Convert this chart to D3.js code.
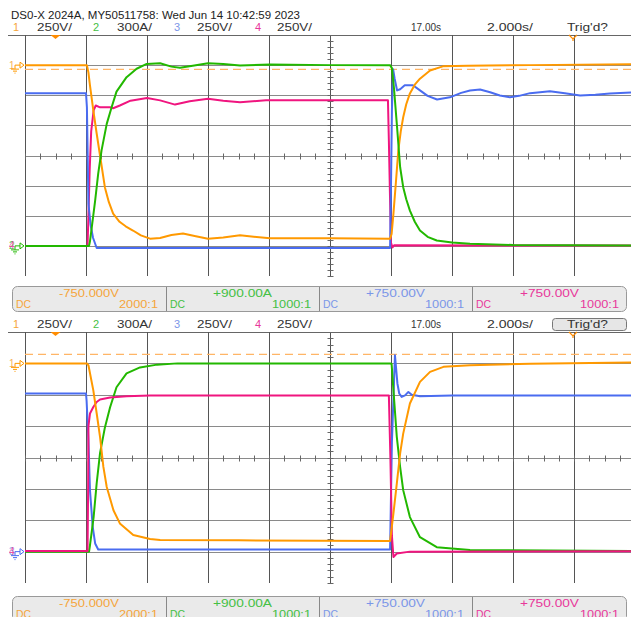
<!DOCTYPE html>
<html><head><meta charset="utf-8">
<script src="https://cdn.jsdelivr.net/npm/d3@7"></script>
<style>body{margin:0;background:#fff}svg{display:block}text{font-family:"Liberation Sans",Arial,sans-serif}</style>
</head><body><svg id="c" width="631" height="617"></svg>
<script>
// ---------- data ----------
const title = "DS0-X 2024A, MY50511758: Wed Jun 14 10:42:59 2023";
const channels = ["1", "2", "3", "4"];
const scaleLabels = ["250V/", "300A/", "250V/", "250V/"];
const offsetLabels = ["-750.000V", "+900.00A", "+750.00V", "+750.00V"];
const probeLabels = ["2000:1", "1000:1", "1000:1", "1000:1"];
const couplingLabels = ["DC", "DC", "DC", "DC"];
const delayLabel = "17.00s";
const timebaseLabel = "2.000s/";
const trigLabel = "Trig'd?";
const timeTicks = [7, 9, 11, 13, 15, 17, 19, 21, 23, 25, 27];   // s
const divTicks = [-4, -3, -2, -1, 0, 1, 2, 3, 4];               // divisions
const refLevelTop = 2.86, refLevelBot = 3.29;                   // dashed ch1 reference (div)

// [time s, value div]
const ch1Top = [[7,3.0],[9.03,3.0],[9.08,2.75],[9.13,2.33],[9.24,1.5],[9.35,0.73],[9.46,0.0],[9.62,-1.06],[9.75,-1.55],[9.89,-1.93],[10.1,-2.2],[10.3,-2.35],[10.54,-2.49],[10.8,-2.65],[11.1,-2.76],[11.43,-2.74],[11.8,-2.64],[12.18,-2.59],[12.6,-2.68],[13.0,-2.76],[13.5,-2.72],[14.05,-2.65],[14.5,-2.7],[15.03,-2.75],[17,-2.75],[18.97,-2.76],[19.02,-2.6],[19.08,-1.93],[19.16,-0.9],[19.24,0.17],[19.32,0.8],[19.4,1.27],[19.5,1.7],[19.62,2.06],[19.78,2.35],[19.95,2.55],[20.28,2.82],[20.7,2.96],[21.5,2.98],[23.56,3.0],[26.87,3.03]];
const ch2Top = [[7,-3.0],[9.1,-3.0],[9.13,-2.85],[9.19,-2.38],[9.3,-1.5],[9.4,-0.6],[9.51,0.17],[9.68,1.05],[9.84,1.6],[10.0,2.12],[10.33,2.6],[10.66,2.88],[10.99,3.04],[11.43,3.06],[11.8,2.95],[12.08,2.91],[12.5,2.98],[13.0,3.06],[13.5,3.04],[14.05,2.99],[15.03,3.02],[17,3.0],[18.97,3.0],[19.03,2.9],[19.1,2.2],[19.19,1.06],[19.3,-0.39],[19.4,-1.05],[19.5,-1.45],[19.62,-1.83],[19.78,-2.2],[19.95,-2.49],[20.2,-2.7],[20.5,-2.82],[21.0,-2.89],[21.59,-2.93],[23,-2.97],[26.87,-2.99]];
const ch3Top = [[7,2.07],[9.0,2.07],[9.03,1.6],[9.05,0.3],[9.08,-1.6],[9.15,-2.3],[9.23,-2.73],[9.35,-3.07],[12,-3.07],[18.97,-3.07],[19.0,-1.0],[19.03,1.5],[19.07,2.86],[19.12,2.55],[19.2,2.16],[19.3,2.2],[19.45,2.33],[19.72,2.33],[19.95,2.16],[20.2,1.98],[20.51,1.86],[20.93,1.93],[21.3,2.08],[21.59,2.16],[21.92,2.19],[22.25,2.1],[22.57,1.99],[22.9,1.93],[23.2,1.98],[23.56,2.07],[24.21,2.13],[24.7,2.07],[25.2,1.99],[25.7,2.02],[26.18,2.06],[26.87,2.09]];
const ch4Top = [[7,-3.0],[9.05,-3.0],[9.08,-2.0],[9.12,-0.5],[9.17,0.8],[9.25,1.5],[9.32,1.66],[9.46,1.6],[9.79,1.6],[9.89,1.57],[10.11,1.66],[10.46,1.82],[11.0,1.91],[11.43,1.83],[11.92,1.69],[12.4,1.8],[13.0,1.88],[13.5,1.82],[14.05,1.77],[14.9,1.83],[17,1.83],[18.9,1.83],[18.93,0.5],[18.97,-1.5],[19.0,-2.9],[19.05,-3.05],[19.1,-2.98],[26.87,-2.99]];

const ch1Bot = [[7,3.0],[9.03,3.0],[9.08,2.94],[9.24,2.14],[9.35,1.41],[9.46,0.66],[9.57,-0.3],[9.68,-0.94],[9.9,-1.68],[10.11,-2.1],[10.55,-2.47],[11.1,-2.6],[11.43,-2.63],[14,-2.64],[18.97,-2.66],[19.08,-1.78],[19.19,-0.83],[19.3,0.13],[19.4,0.76],[19.62,1.72],[19.95,2.41],[20.28,2.73],[20.72,2.89],[21.59,2.94],[23.56,2.99],[26.87,3.03]];
const ch2Bot = [[7,-3.0],[9.1,-3.0],[9.13,-2.8],[9.25,-1.9],[9.35,-0.82],[9.46,0.14],[9.62,0.96],[9.79,1.6],[10.0,2.24],[10.33,2.68],[10.77,2.87],[11.33,2.96],[12,3.0],[18.97,3.0],[19.02,2.98],[19.08,2.14],[19.19,0.66],[19.3,-0.31],[19.4,-1.04],[19.62,-1.9],[19.95,-2.54],[20.5,-2.86],[21.59,-2.95],[26.87,-2.98]];
const ch3Bot = [[7,2.04],[9.0,2.04],[9.02,1.8],[9.08,0.55],[9.13,-1.04],[9.22,-2.21],[9.3,-2.74],[9.4,-2.93],[18.97,-2.93],[19.03,0.5],[19.13,3.26],[19.21,2.36],[19.27,2.04],[19.35,1.93],[19.46,1.98],[19.57,2.09],[19.68,2.0],[19.95,1.95],[21,1.98],[26.87,1.98]];
const ch4Bot = [[7,-2.98],[9.05,-2.98],[9.07,-1.0],[9.08,1.0],[9.13,1.4],[9.24,1.61],[9.35,1.77],[9.46,1.85],[9.79,1.91],[10.33,1.95],[11.1,1.98],[18.93,1.98],[18.98,0.0],[19.03,-2.5],[19.08,-3.17],[19.19,-3.06],[19.62,-3.0],[26.87,-2.99]];

// ---------- style ----------
const traceColors = ["#ff9900", "#22b800", "#4a6cf0", "#f0157f"];
const textColors = ["#f5a53a", "#44c044", "#7b96e8", "#e8389a"];
const svg = d3.select("#c");
const W = 631;

const x = d3.scaleLinear().domain([7, 27]).range([25, 635]);

const panels = [
  {top: 35, bottom: 276, header: 31, box: 286, traces: [ch4Top, ch3Top, ch1Top, ch2Top], order: [3, 2, 0, 1], ref: refLevelTop, trigBox: false,
   markers: [{v: 3, nums: [0], arrow: 0}, {v: -3, nums: [1, 3], arrow: 1}]},
  {top: 332, bottom: 583, header: 328, box: 596, traces: [ch3Bot, ch2Bot, ch4Bot, ch1Bot], order: [2, 1, 3, 0], ref: refLevelBot, trigBox: true,
   markers: [{v: 3, nums: [0], arrow: 0}, {v: -3, nums: [2, 3], arrow: 2}]}
];

// title
svg.append("text").attr("x", 11).attr("y", 19).attr("font-size", 11).attr("fill", "#222")
  .attr("textLength", 289).attr("lengthAdjust", "spacingAndGlyphs").text(title);

const numX = [13, 93, 174, 255], scX = [37, 117, 197, 277];

panels.forEach((p, pi) => {
  const y = d3.scaleLinear().domain([-4, 4]).range([p.bottom, p.top]);
  const g = svg.append("g");

  // header row
  channels.forEach((c, i) => {
    g.append("text").attr("x", numX[i]).attr("y", p.header).attr("font-size", 11).attr("fill", textColors[i]).text(c);
    g.append("text").attr("x", scX[i]).attr("y", p.header).attr("font-size", 11).attr("fill", "#333")
      .attr("textLength", 35).attr("lengthAdjust", "spacingAndGlyphs").text(scaleLabels[i]);
  });
  g.append("text").attr("x", 411).attr("y", p.header).attr("font-size", 11).attr("fill", "#333")
    .attr("textLength", 30).attr("lengthAdjust", "spacingAndGlyphs").text(delayLabel);
  g.append("text").attr("x", 487).attr("y", p.header).attr("font-size", 11).attr("fill", "#333")
    .attr("textLength", 46).attr("lengthAdjust", "spacingAndGlyphs").text(timebaseLabel);
  if (p.trigBox) {
    g.append("rect").attr("x", 552.5).attr("y", p.header - 9.5).attr("width", 74).attr("height", 12).attr("rx", 3)
      .attr("fill", "#e6e6e6").attr("stroke", "#777");
  }
  g.append("text").attr("x", 567).attr("y", p.header).attr("font-size", 11).attr("fill", "#333")
    .attr("textLength", 41).attr("lengthAdjust", "spacingAndGlyphs").text(trigLabel);

  // grid
  g.append("line").attr("x1", 8).attr("x2", W).attr("y1", p.top + 0.5).attr("y2", p.top + 0.5).attr("stroke", "#666");
  g.selectAll(".hl").data(divTicks.filter(d => d > -4 && d < 4)).join("line")
    .attr("x1", 25).attr("x2", W).attr("y1", d => Math.round(y(d)) + 0.5).attr("y2", d => Math.round(y(d)) + 0.5)
    .attr("stroke", "#8a8a8a");
  g.selectAll(".vl").data(timeTicks).join("line")
    .attr("x1", d => Math.round(x(d)) + 0.5).attr("x2", d => Math.round(x(d)) + 0.5)
    .attr("y1", p.top).attr("y2", p.bottom).attr("stroke", "#555");
  // centre ticks
  const divH = (p.bottom - p.top) / 8;
  const cx = Math.round(x(17)) + 0.5, cy = Math.round(y(0)) + 0.5;
  d3.range(p.top, p.bottom + 0.1, divH / 5).forEach(yy => {
    g.append("line").attr("x1", cx - 3).attr("x2", cx + 3).attr("y1", Math.round(yy) + 0.5).attr("y2", Math.round(yy) + 0.5).attr("stroke", "#666");
  });
  d3.range(7, 27.01, 0.5).forEach(t => {
    g.append("line").attr("x1", Math.round(x(t)) + 0.5).attr("x2", Math.round(x(t)) + 0.5).attr("y1", cy - 3).attr("y2", cy + 3).attr("stroke", "#666");
  });

  // ch1 reference dashed line
  g.append("line").attr("x1", 25).attr("x2", W).attr("y1", y(p.ref)).attr("y2", y(p.ref))
    .attr("stroke", "#ffb566").attr("stroke-width", 1.2).attr("stroke-dasharray", "8,5");

  // markers at top
  const tx = x(8.0);
  g.append("path").attr("d", `M${tx - 5},${p.top} H${tx + 5} L${tx},${p.top + 4} Z`).attr("fill", "#ff8c00");
  g.append("path").attr("d", `M569,${p.top} L573,${p.top + 4} L577,${p.top} M573,${p.top + 4} V${p.top + 6}`)
    .attr("fill", "none").attr("stroke", "#ff8c00").attr("stroke-width", 1.2);

  // traces
  const clipId = "clip" + pi;
  svg.append("clipPath").attr("id", clipId).append("rect").attr("x", 25).attr("y", p.top).attr("width", W - 25).attr("height", p.bottom - p.top);
  const line = d3.line().x(d => x(d[0])).y(d => y(d[1]));
  const tg = g.append("g").attr("clip-path", `url(#${clipId})`);
  p.traces.forEach((tr, k) => {
    tg.append("path").datum(tr).attr("d", line).attr("fill", "none")
      .attr("stroke", traceColors[p.order[k]]).attr("stroke-width", 2).attr("stroke-linejoin", "round");
  });

  // left ground markers
  p.markers.forEach(m => {
    const yy = y(m.v);
    m.nums.forEach(n => {
      g.append("text").attr("x", 9).attr("y", yy + 3.5).attr("font-size", 10).attr("fill", textColors[n]).attr("opacity", 0.85).text(channels[n]);
    });
    const col = traceColors[m.arrow];
    g.append("path").attr("d", `M15,${yy} H20 M20,${yy - 3} L24,${yy} L20,${yy + 3} Z M15,${yy} V${yy + 4} M11,${yy + 4} H19 M13,${yy + 6} H17 M14.5,${yy + 8} H15.5`)
      .attr("fill", "none").attr("stroke", col).attr("stroke-width", 1);
  });

  // info box
  const by = p.box;
  const cells = [[12, 166], [166, 319], [319, 472], [472, 627]];
  g.append("rect").attr("x", 12.5).attr("y", by + 0.5).attr("width", 614).attr("height", 25).attr("rx", 5)
    .attr("fill", "#eaeaea").attr("stroke", "#999");
  [166, 319, 472].forEach(dx => g.append("line").attr("x1", dx + 0.5).attr("x2", dx + 0.5).attr("y1", by + 1).attr("y2", by + 25).attr("stroke", "#888"));
  cells.forEach((c, i) => {
    g.append("text").attr("x", (c[0] + c[1]) / 2).attr("y", by + 11).attr("text-anchor", "middle").attr("font-size", 11)
      .attr("fill", textColors[i]).attr("textLength", i === 0 ? 60 : 59).attr("lengthAdjust", "spacingAndGlyphs").text(offsetLabels[i]);
    g.append("text").attr("x", c[0] + 4).attr("y", by + 21.5).attr("font-size", 11).attr("fill", textColors[i])
      .attr("textLength", 15).attr("lengthAdjust", "spacingAndGlyphs").text(couplingLabels[i]);
    g.append("text").attr("x", c[1] - 8).attr("y", by + 21.5).attr("text-anchor", "end").attr("font-size", 11).attr("fill", textColors[i])
      .attr("textLength", 39).attr("lengthAdjust", "spacingAndGlyphs").text(probeLabels[i]);
  });
});
</script></body></html>
